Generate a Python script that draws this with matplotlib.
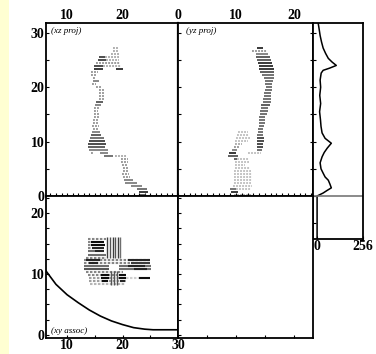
import matplotlib
matplotlib.use("Agg")
import matplotlib.pyplot as plt
from matplotlib.patches import Rectangle
from matplotlib.ticker import MultipleLocator

plt.rcParams["font.family"] = ["Liberation Serif", "DejaVu Serif"]
plt.rcParams["font.weight"] = "bold"

# ---- xz projection: rows of pixels (z, x start, x end, darkness 0..1)
xz_z = [27.2, 26.6, 26.1, 25.5, 25.5, 25.0, 25.0, 24.4, 23.9, 23.9, 23.3, 23.3,
        22.8, 22.2, 21.7, 21.1, 20.6, 20.0, 19.4, 18.9, 18.3, 17.8, 17.2, 16.7,
        16.1, 15.6, 15.0, 14.5, 13.9, 13.4, 12.8, 12.3, 11.7, 11.2, 10.6, 10.1,
        9.5, 9.0, 8.4, 7.9, 7.9, 7.3, 7.3, 6.8, 6.2, 5.7, 5.1, 4.6, 4.0, 3.5,
        2.9, 2.4, 1.8, 1.3, 0.7, 0.2]
xz_x0 = [18.3, 18.3, 17.9, 15.8, 16.8, 15.6, 17.0, 15.2, 14.9, 16.5, 14.8, 18.9,
         14.4, 14.4, 14.6, 14.7, 14.5, 15.2, 15.8, 15.8, 15.8, 15.8, 15.3, 15.0,
         14.8, 14.9, 14.8, 14.9, 14.7, 14.6, 14.5, 14.7, 14.5, 14.4, 14.2, 14.0,
         13.8, 13.7, 13.9, 14.3, 15.9, 16.7, 18.6, 19.8, 19.8, 19.9, 20.0, 20.0,
         19.9, 20.0, 20.2, 20.5, 21.6, 22.6, 23.0, 23.2]
xz_x1 = [19.3, 19.3, 19.3, 16.8, 19.3, 17.0, 19.3, 19.5, 16.5, 19.8, 16.5, 20.0,
         15.6, 15.4, 15.3, 15.8, 15.3, 16.3, 16.6, 16.6, 16.6, 16.6, 16.5, 16.2,
         15.8, 15.6, 15.8, 15.7, 15.6, 15.6, 15.7, 15.8, 16.0, 16.2, 16.6, 16.8,
         17.0, 16.8, 17.3, 14.8, 17.4, 18.3, 20.8, 21.0, 21.0, 21.0, 21.0, 21.1,
         21.2, 21.3, 21.8, 22.6, 23.5, 24.4, 24.6, 24.2]
xz_dark = [0.4, 0.4, 0.4, 0.9, 0.4, 0.9, 0.4, 0.5, 0.9, 0.4, 1.0, 1.0,
           0.5, 0.5, 0.5, 0.6, 0.5, 0.5, 0.5, 0.5, 0.5, 0.5, 0.8, 0.6,
           0.5, 0.5, 0.5, 0.5, 0.5, 0.5, 0.5, 0.5, 0.6, 0.8, 0.7, 0.9,
           0.9, 0.8, 0.6, 0.5, 0.6, 0.7, 0.4, 0.5, 0.5, 0.5, 0.5, 0.5,
           0.5, 0.5, 0.6, 0.6, 0.6, 0.7, 1.0, 0.8]

# ---- yz projection: rows (z, y start, y end, darkness)
yz_z = [27.2, 26.6, 26.1, 25.5, 25.0, 24.4, 23.9, 23.3, 22.8, 22.2, 21.7, 21.1,
        20.6, 20.0, 19.4, 18.9, 18.3, 17.8, 17.2, 16.7, 16.1, 15.6, 15.0, 14.5,
        13.9, 13.4, 12.8, 12.3, 11.7, 11.7, 11.2, 11.2, 10.6, 10.6, 10.1, 10.1,
        9.5, 9.5, 9.0, 9.0, 8.4, 8.4, 7.9, 7.9, 7.3, 6.8, 6.8, 6.2, 5.7, 5.1,
        4.6, 4.0, 3.5, 2.9, 2.4, 1.8, 1.3, 1.3, 0.7, 0.2]
yz_y0 = [13.7, 12.8, 13.4, 13.4, 13.6, 13.8, 13.9, 13.9, 14.2, 14.5, 14.8, 15.0,
         15.0, 15.2, 15.0, 14.9, 14.8, 14.7, 14.6, 14.4, 14.3, 14.2, 14.1, 14.0,
         14.0, 13.9, 13.9, 13.8, 13.8, 10.4, 13.7, 10.2, 13.6, 10.0, 13.6, 9.8,
         13.6, 9.8, 13.6, 9.6, 13.7, 9.4, 8.8, 12.0, 8.6, 9.6, 10.2, 9.8, 9.8, 9.8,
         9.7, 9.7, 9.6, 9.6, 9.6, 9.5, 9.0, 10.0, 9.2, 9.6]
yz_y1 = [14.6, 15.3, 15.5, 15.8, 16.0, 16.2, 16.4, 16.5, 16.6, 16.6, 16.5, 16.4,
         16.3, 16.3, 16.2, 16.1, 16.1, 16.0, 16.0, 15.8, 15.6, 15.5, 15.3, 15.1,
         15.0, 15.0, 14.8, 14.7, 14.7, 12.0, 14.7, 12.3, 14.8, 12.4, 14.8, 12.0,
         14.7, 11.0, 14.6, 10.6, 14.5, 10.2, 10.0, 14.3, 10.4, 10.2, 12.2, 12.3, 11.5, 12.5,
         12.6, 12.8, 12.7, 12.8, 12.6, 12.8, 10.0, 12.6, 10.4, 12.8]
yz_dark = [1.0, 0.5, 0.6, 0.8, 0.8, 1.0, 1.0, 1.0, 0.8, 0.7, 0.7, 0.7,
           0.7, 0.7, 0.7, 0.7, 0.7, 0.7, 0.7, 0.8, 0.7, 0.7, 0.7, 0.7,
           0.7, 0.7, 0.7, 0.7, 0.7, 0.3, 0.7, 0.3, 0.9, 0.3, 0.9, 0.3,
           0.9, 0.4, 0.9, 0.5, 0.7, 0.6, 1.0, 0.3, 0.8, 0.8, 0.3, 0.3, 0.3, 0.3,
           0.3, 0.3, 0.3, 0.3, 0.3, 0.3, 0.7, 0.3, 1.0, 0.4]

# ---- z profile (counts 0..256)
prof_z = [31.8, 31.0, 29.5, 28.3, 27.2, 26.2, 25.3, 24.6, 24.0, 23.5, 23.1, 22.6,
          21.3, 20.0, 18.5, 17.0, 15.5, 14.0, 12.8, 11.6, 10.6, 9.7, 8.8, 8.0,
          7.2, 6.1, 5.0, 4.2, 3.5, 2.9, 2.2, 1.5, 1.0, 0.55, 0.0, -7.9]
prof_val = [6, 10, 17, 25, 34, 48, 63, 85, 108, 70, 34, 23,
            17, 20, 15, 20, 14, 19, 22, 28, 45, 80, 57, 40,
            28, 17, 22, 34, 45, 63, 72, 80, 55, 34, 0, 0]

# ---- xy association: horizontal pixel rows (y, x start, x end, darkness)
xy_y = [15.7, 15.2, 15.2, 14.7, 14.7, 14.2, 14.2, 13.7, 13.7, 13.2, 12.7,
        12.3, 12.3, 12.3, 11.8, 11.8, 11.8, 11.3, 11.3, 11.3, 10.8, 10.8, 10.8,
        10.3, 9.8, 9.8, 9.8, 9.3, 9.3, 9.3, 9.3, 9.3, 8.8, 8.8, 8.8, 8.3]
xy_x0 = [13.8, 13.7, 14.4, 13.7, 14.4, 13.7, 14.5, 13.7, 15.0, 13.7, 13.5,
         13.1, 13.5, 21.0, 13.1, 14.0, 21.5, 13.1, 19.3, 21.0, 13.1, 19.3, 22.0,
         13.5, 13.8, 16.1, 19.3, 14.0, 16.1, 19.3, 23.0, 20.7, 14.0, 16.3, 19.5, 14.2]
xy_x1 = [17.0, 14.4, 16.7, 14.4, 16.8, 14.5, 16.6, 15.0, 16.6, 17.0, 17.0,
         25.1, 16.0, 25.0, 25.1, 15.5, 25.0, 17.5, 25.1, 24.0, 17.5, 25.1, 24.5,
         20.0, 20.5, 17.5, 20.7, 20.7, 17.5, 20.7, 24.9, 23.0, 20.7, 17.3, 20.5, 20.5]
xy_dark = [0.5, 0.5, 1.0, 0.5, 1.0, 0.5, 0.9, 0.6, 0.9, 0.6, 0.5,
           0.5, 0.9, 0.9, 0.5, 0.9, 0.8, 0.6, 0.6, 0.9, 0.7, 0.6, 0.9,
           0.5, 0.5, 1.0, 1.0, 0.4, 1.0, 1.0, 1.0, 0.2, 0.4, 1.0, 0.9, 0.3]
# vertical stripes (x, y start, y end, darkness)
xy_vx = [17.2, 17.7, 18.2, 18.7, 19.2, 19.6, 18.0, 18.5, 19.0]
xy_vy0 = [12.7, 12.7, 12.7, 12.7, 12.7, 12.7, 8.2, 8.2, 8.2]
xy_vy1 = [16.0, 16.0, 16.0, 16.0, 16.0, 16.0, 10.5, 10.5, 10.5]
xy_vdark = [0.8, 0.7, 0.8, 0.7, 0.8, 0.6, 0.7, 0.7, 0.7]

# association curve
curve_x = [6.2, 8.0, 10.0, 12.0, 14.0, 16.0, 18.0, 20.0, 22.0, 24.0, 25.5, 30.0]
curve_y = [10.5, 8.3, 6.6, 5.3, 4.1, 3.1, 2.3, 1.7, 1.2, 0.95, 0.85, 0.85]

XLIM = (6.2, 30.0)
YLIM = (0.0, 23.3)
ZLIM = (0.0, 31.8)
ASSOC_YLIM = (-0.5, 22.8)


def gray(d):
    return str(round(1.0 - 0.95 * d, 3))


def draw_rows(ax, pos, a0, a1, dark, lw=1.15):
    for p, s, e, d in zip(pos, a0, a1, dark):
        ls = "-" if d >= 0.6 else (0, (1.2, 0.7))
        ax.hlines(p, s, e, colors=gray(d), linewidth=lw, linestyles=[ls])


def style(ax, lw=1.3):
    for sp in ax.spines.values():
        sp.set_linewidth(lw)
    ax.tick_params(which="both", direction="in", length=2, width=0.8,
                   labelsize=10, pad=1)


def panel_label(ax, x, y, text, va):
    ax.text(x, y, text, transform=ax.transAxes, fontsize=6.5, style="italic",
            fontweight="normal", va=va, ha="left")


fig = plt.figure(figsize=(3.76, 3.54), dpi=100)
fig.patches.append(Rectangle((0, 0), 9 / 376, 1, transform=fig.transFigure,
                             facecolor="#ffffd2", edgecolor="none", zorder=0))

W, H = 376.0, 354.0
def box(x0, y0, x1, y1):
    return [x0 / W, 1 - y1 / H, (x1 - x0) / W, (y1 - y0) / H]

ax_xz = fig.add_axes(box(46, 23, 178, 196))
ax_yz = fig.add_axes(box(178, 23, 313, 196))
ax_pr = fig.add_axes(box(313, 23, 363, 239))
ax_xy = fig.add_axes(box(46, 196, 178, 338))
ax_em = fig.add_axes(box(178, 196, 313, 338))

# xz projection
draw_rows(ax_xz, xz_z, xz_x0, xz_x1, xz_dark)
ax_xz.set_xlim(*XLIM)
ax_xz.set_ylim(*ZLIM)
ax_xz.xaxis.tick_top()
ax_xz.set_xticks([10, 20])
ax_xz.xaxis.set_minor_locator(MultipleLocator(1))
ax_xz.set_yticks([0, 10, 20, 30])
ax_xz.yaxis.set_minor_locator(MultipleLocator(5))
ax_xz.tick_params(which="both", bottom=True, top=False)
panel_label(ax_xz, 0.04, 0.975, "(xz proj)", "top")
style(ax_xz)

# yz projection
draw_rows(ax_yz, yz_z, yz_y0, yz_y1, yz_dark)
ax_yz.set_xlim(*YLIM)
ax_yz.set_ylim(*ZLIM)
ax_yz.xaxis.tick_top()
ax_yz.set_xticks([0, 10, 20])
ax_yz.xaxis.set_minor_locator(MultipleLocator(1))
ax_yz.tick_params(which="both", bottom=True, top=False)
ax_yz.yaxis.set_minor_locator(MultipleLocator(5))
ax_yz.set_yticks([0, 10, 20, 30])
ax_yz.tick_params(axis="y", which="both", right=True, labelleft=False)
panel_label(ax_yz, 0.06, 0.975, "(yz proj)", "top")
style(ax_yz)

# z profile
ax_pr.plot(prof_val, prof_z, color="black", linewidth=1.1)
ax_pr.axhline(0, color="#777777", linewidth=1.2)
ax_pr.set_xlim(-23, 258)
ax_pr.set_ylim(ZLIM[1] - 39.7, ZLIM[1])
ax_pr.set_xticks([0, 256])
ax_pr.set_yticks([])
ax_pr.yaxis.set_minor_locator(MultipleLocator(5))
ax_pr.tick_params(axis="x", length=0)
ax_pr.tick_params(axis="y", which="minor", left=True, length=2)
style(ax_pr)

# xy association
draw_rows(ax_xy, xy_y, xy_x0, xy_x1, xy_dark, lw=1.5)
for vx, v0, v1, d in zip(xy_vx, xy_vy0, xy_vy1, xy_vdark):
    ax_xy.vlines(vx, v0, v1, colors=gray(d), linewidth=1.0)
ax_xy.plot(curve_x, curve_y, color="black", linewidth=1.2)
ax_xy.set_xlim(*XLIM)
ax_xy.set_ylim(*ASSOC_YLIM)
ax_xy.set_xticks([10, 20, 30])
ax_xy.xaxis.set_minor_locator(MultipleLocator(5))
ax_xy.set_yticks([0, 10, 20])
ax_xy.yaxis.set_minor_locator(MultipleLocator(2.5))
panel_label(ax_xy, 0.04, 0.02, "(xy assoc)", "bottom")
style(ax_xy)

# empty lower-middle panel
ax_em.set_xlim(*YLIM)
ax_em.set_ylim(*ASSOC_YLIM)
ax_em.set_xticks([])
ax_em.set_yticks([])
ax_em.xaxis.set_minor_locator(MultipleLocator(5))
ax_em.yaxis.set_minor_locator(MultipleLocator(2.5))
ax_em.tick_params(which="minor", bottom=True, left=True, length=2)
style(ax_em)

# heavier divider lines
for ax in (ax_xz, ax_yz):
    ax.spines["bottom"].set_linewidth(1.8)
ax_xz.spines["right"].set_linewidth(1.6)

fig.savefig("out.png", dpi=100)
